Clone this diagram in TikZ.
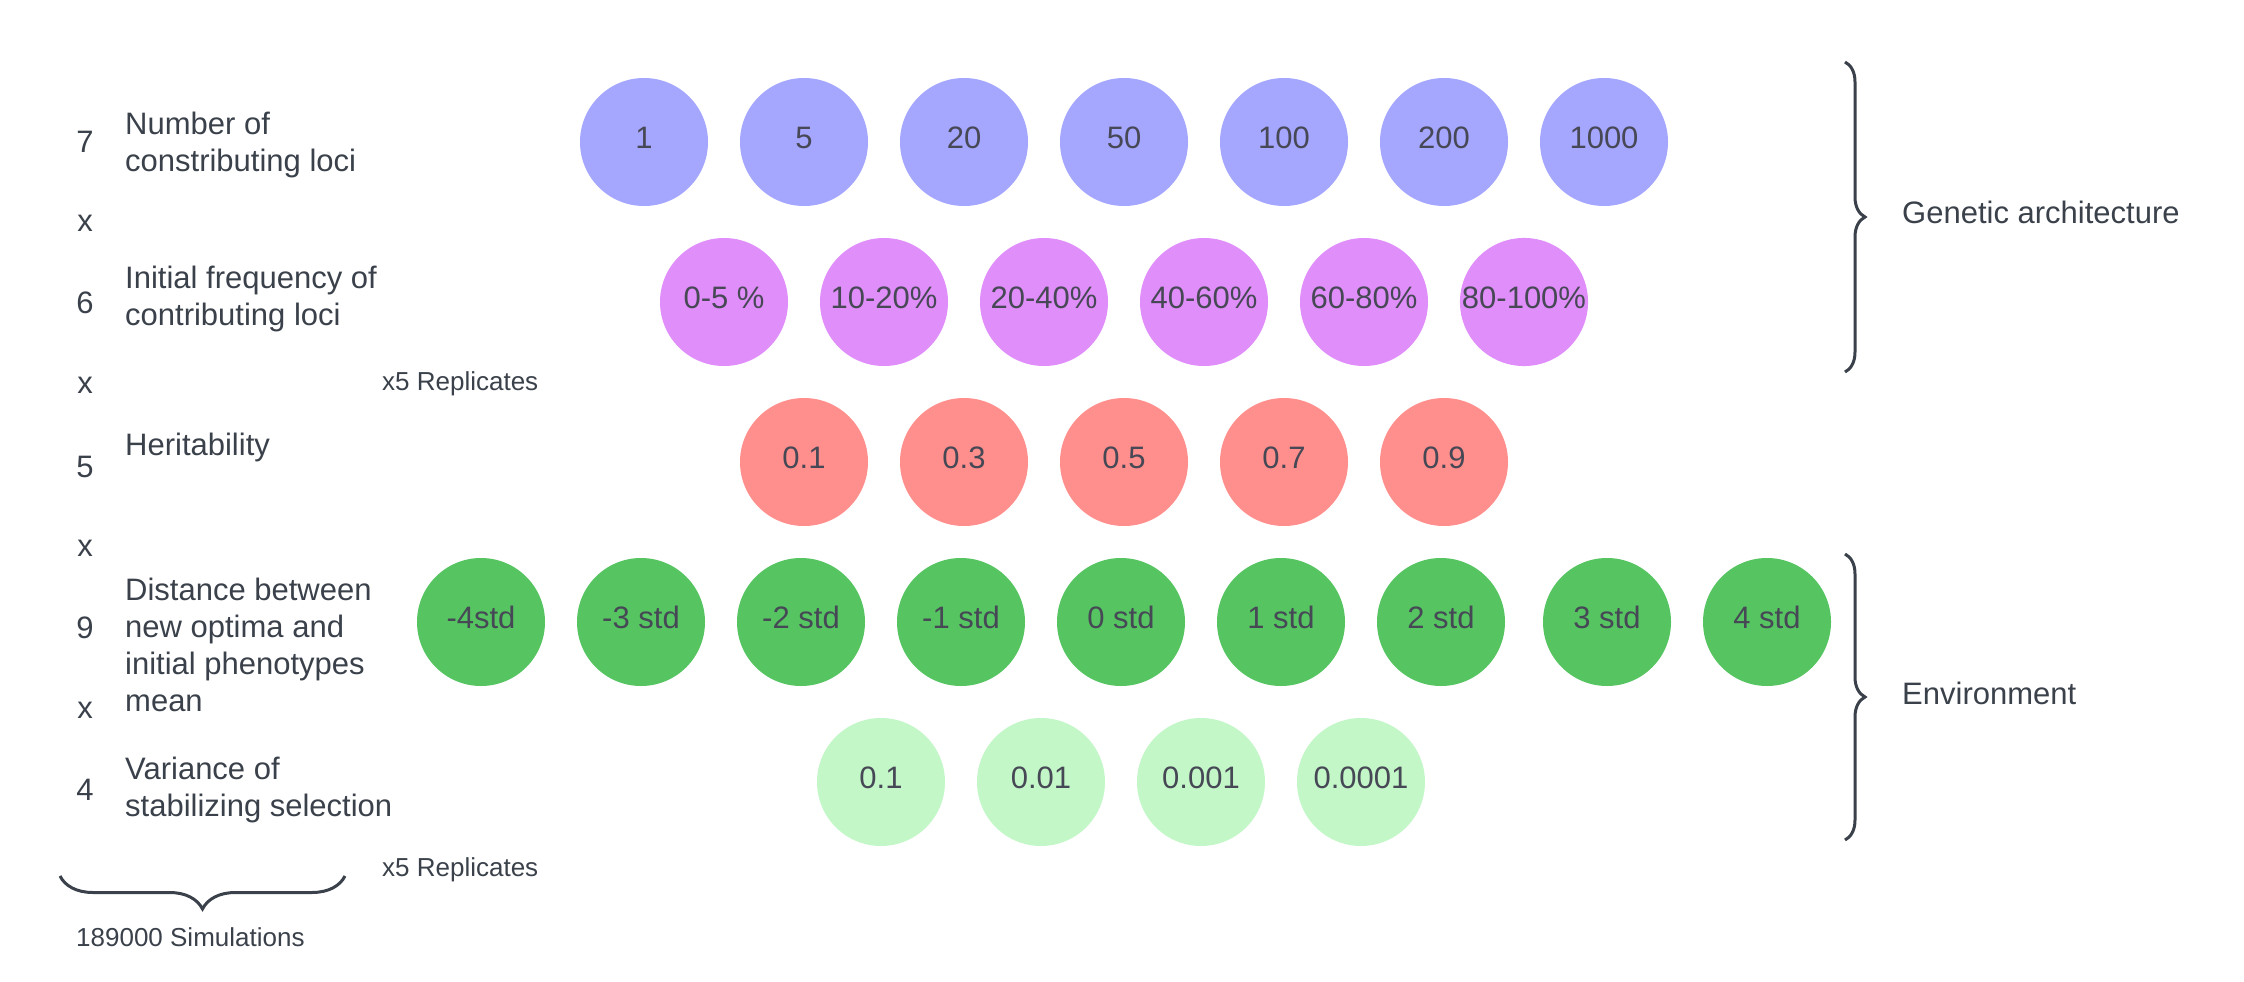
\documentclass[tikz,border=0pt]{standalone}
\usepackage{fontspec}
\setmainfont{Liberation Sans}
\usetikzlibrary{decorations.pathreplacing}
\definecolor{txt}{HTML}{3A414A}
\definecolor{ctxt}{HTML}{474856}
\definecolor{cblue}{HTML}{A5A6FE}
\definecolor{cpink}{HTML}{E08EF9}
\definecolor{cred}{HTML}{FF8F8C}
\definecolor{cgreen}{HTML}{55C461}
\definecolor{clight}{HTML}{C3F7C8}
\begin{document}
\begin{tikzpicture}[x=1pt,y=-1pt,
  val/.style={circle, minimum size=128pt, inner sep=0pt, text=ctxt, text height=22pt, text depth=10pt, font=\fontsize{31}{37}\selectfont},
  lab/.style={text=txt, font=\fontsize{31}{37}\selectfont, align=left, anchor=west, inner sep=0pt},
  num/.style={text=txt, font=\fontsize{31}{37}\selectfont, inner sep=0pt},
  small/.style={text=txt, font=\fontsize{26}{31}\selectfont, inner sep=0pt, anchor=west},
  bracestyle/.style={draw=txt, line width=3pt, decorate}
]
\useasboundingbox (0,0) rectangle (2244,982);

% value circles
\foreach \t [count=\i from 0] in {1,5,20,50,100,200,1000}
  \node[val, fill=cblue] (b\i) at (644+160*\i,142) {\t};
\foreach \t [count=\i from 0] in {0-5~\%,10-20\%,20-40\%,40-60\%,60-80\%,80-100\%}
  \node[val, fill=cpink] (p\i) at (724+160*\i,302) {\t};
\foreach \t [count=\i from 0] in {0.1,0.3,0.5,0.7,0.9}
  \node[val, fill=cred] (r\i) at (804+160*\i,462) {\t};
\foreach \t/\x [count=\i from 0] in {-4std/481,-3 std/641,-2 std/801,-1 std/961,0 std/1121,1 std/1281,2 std/1441,3 std/1607,4 std/1767}
  \node[val, fill=cgreen] (g\i) at (\x,622) {\t};
\foreach \t [count=\i from 0] in {0.1,0.01,0.001,0.0001}
  \node[val, fill=clight] (l\i) at (881+160*\i,782) {\t};

% left column numbers
\node[num] (n7) at (85,142) {7};
\node[num] (x1) at (85,223) {x};
\node[num] (n6) at (85,303) {6};
\node[num] (x2) at (85,385) {x};
\node[num] (n5) at (85,467) {5};
\node[num] (x3) at (85,548) {x};
\node[num] (n9) at (85,628) {9};
\node[num] (x4) at (85,710) {x};
\node[num] (n4) at (85,790) {4};

% left column labels
\node[lab] (t1) at (125,145) {Number of\\constributing loci};
\node[lab] (t2) at (125,299) {Initial frequency of\\contributing loci};
\node[lab] (t3) at (125,447) {Heritability};
\node[lab] (t4) at (125,645) {Distance between\\new optima and\\initial phenotypes\\mean};
\node[lab] (t5) at (125,790) {Variance of\\stabilizing selection};

\node[small] (rep1) at (382,384) {x5 Replicates};
\node[small] (rep2) at (382,870) {x5 Replicates};
\node[small] (sims) at (76,937) {189000 Simulations};

% braces
\draw[bracestyle, decoration={brace, amplitude=20pt}] (1845,62) -- (1845,372);
\draw[bracestyle, decoration={brace, amplitude=20pt}] (1845,554) -- (1845,840);
\draw[bracestyle, decoration={brace, amplitude=33pt, mirror}] (60,876) -- (345,876);

\node[lab] (ga) at (1902,212) {Genetic architecture};
\node[lab] (env) at (1902,693) {Environment};
\end{tikzpicture}
\end{document}
